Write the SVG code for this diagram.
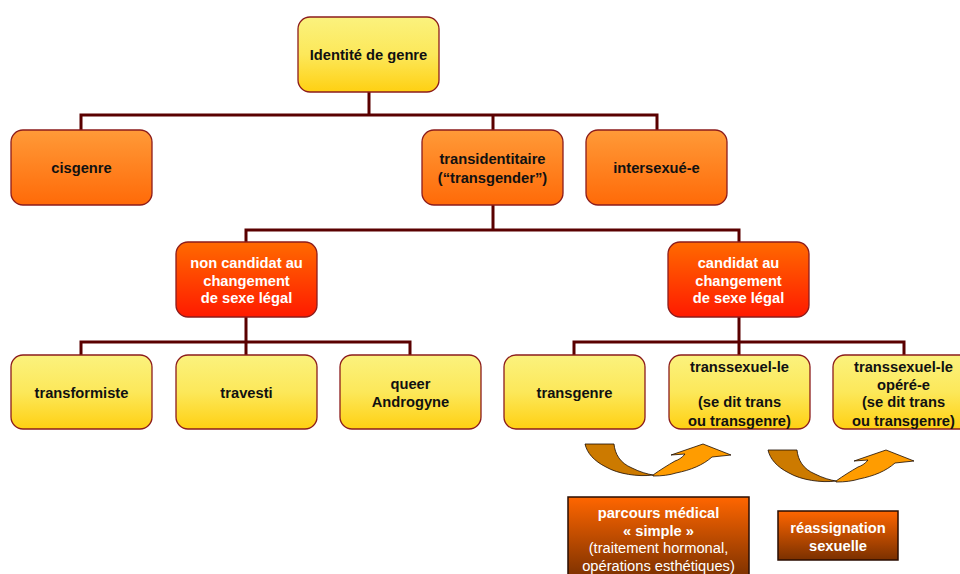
<svg xmlns="http://www.w3.org/2000/svg" width="960" height="574" viewBox="0 0 960 574">
<defs>
<linearGradient id="gy" x1="0" y1="0" x2="0" y2="1"><stop offset="0" stop-color="#fbf27e"/><stop offset="0.5" stop-color="#fce85a"/><stop offset="1" stop-color="#ffd012"/></linearGradient>
<linearGradient id="go" x1="0" y1="0" x2="0" y2="1"><stop offset="0" stop-color="#ff9a38"/><stop offset="1" stop-color="#ff6a08"/></linearGradient>
<linearGradient id="gr" x1="0" y1="0" x2="0" y2="1"><stop offset="0" stop-color="#ff6a00"/><stop offset="1" stop-color="#ff1a00"/></linearGradient>
<linearGradient id="gb" x1="0" y1="0" x2="0" y2="1"><stop offset="0" stop-color="#ff6600"/><stop offset="1" stop-color="#7a3000"/></linearGradient>
<g id="curved">
<path class="ad" d="M585,444 L614,444 C615,454 620,463 632,468 C640,472 647,474 653,475 C638,477 618,474 606,467 C594,461 587,453 585,444 Z"/>
<path class="al" d="M653,476 C662,476 670,475 676,473 C691,470 703,465 712,457 L731,455 L703,444 L671,455 L685,454 C682,458 678,460 675,461 C668,465 660,470 653,475 Z"/>
</g>
</defs>
<style>
.n{stroke:#8c1c1c;stroke-width:1.3}
.y{fill:url(#gy)}
.o{fill:url(#go)}
.r{fill:url(#gr)}
.b{fill:url(#gb);stroke:#2a0c00;stroke-width:1.5}
text{font-family:"Liberation Sans",Arial,sans-serif;font-size:14.7px;font-weight:bold;text-anchor:middle;fill:#111}
.w{fill:#fff}
.reg{font-weight:normal}
.c{fill:none;stroke:#5a0000;stroke-width:3}
.ad{fill:#cc7a00;stroke:#1a0a00;stroke-width:0.8}
.al{fill:#ff9c00;stroke:#1a0a00;stroke-width:0.8}
</style>
<rect width="960" height="574" fill="#fff"/>
<g id="connectors">
<path class="c" d="M369,92 V115 M81,130 V115 H657 V130 M493,115 V130"/>
<path class="c" d="M493,205 V230 M246,242 V230 H739 V242"/>
<path class="c" d="M246,317 V342 M81,355 V342 H410 V355 M246,342 V355"/>
<path class="c" d="M739,317 V342 M574,355 V342 H904 V355 M739,342 V355"/>
</g>
<g id="n-identite"><rect class="n y" x="298" y="17" width="141" height="75" rx="12"/><text x="368.5" y="60">Identité de genre</text></g>
<g id="n-cisgenre"><rect class="n o" x="11" y="130" width="141" height="75" rx="12"/><text x="81.5" y="173">cisgenre</text></g>
<g id="n-transidentitaire"><rect class="n o" x="422" y="130" width="141" height="75" rx="12"/><text x="492.5" y="164">transidentitaire</text><text x="492.5" y="183">(“transgender”)</text></g>
<g id="n-intersexue"><rect class="n o" x="586" y="130" width="141" height="75" rx="12"/><text x="656.5" y="173">intersexué-e</text></g>
<g id="n-noncandidat"><rect class="n r" x="176" y="242" width="141" height="75" rx="12"/><text class="w" x="246.5" y="268">non candidat au</text><text class="w" x="246.5" y="286">changement</text><text class="w" x="246.5" y="303">de sexe légal</text></g>
<g id="n-candidat"><rect class="n r" x="668" y="242" width="141" height="75" rx="12"/><text class="w" x="738.5" y="268">candidat au</text><text class="w" x="738.5" y="286">changement</text><text class="w" x="738.5" y="303">de sexe légal</text></g>
<g id="n-transformiste"><rect class="n y" x="11" y="355" width="141" height="74" rx="12"/><text x="81.5" y="398">transformiste</text></g>
<g id="n-travesti"><rect class="n y" x="176" y="355" width="141" height="74" rx="12"/><text x="246.5" y="398">travesti</text></g>
<g id="n-queer"><rect class="n y" x="340" y="355" width="141" height="74" rx="12"/><text x="410.5" y="389">queer</text><text x="410.5" y="407">Androgyne</text></g>
<g id="n-transgenre"><rect class="n y" x="504" y="355" width="141" height="74" rx="12"/><text x="574.5" y="398">transgenre</text></g>
<g id="n-transsexuel"><rect class="n y" x="669" y="355" width="141" height="74" rx="12"/><text x="739.5" y="372">transsexuel-le</text><text x="739.5" y="407">(se dit trans</text><text x="739.5" y="426">ou transgenre)</text></g>
<g id="n-opere"><rect class="n y" x="833" y="355" width="141" height="74" rx="12"/><text x="903.5" y="372">transsexuel-le</text><text x="903.5" y="390">opéré-e</text><text x="903.5" y="407">(se dit trans</text><text x="903.5" y="426">ou transgenre)</text></g>
<g id="arrow1"><use href="#curved"/></g>
<g id="arrow2"><use href="#curved" transform="translate(183,6)"/></g>
<g id="n-parcours"><rect class="b" x="568" y="497" width="181" height="82"/><text class="w" x="658.5" y="518">parcours médical</text><text class="w" x="658.5" y="536">« simple »</text><text class="w reg" x="658.5" y="553">(traitement hormonal,</text><text class="w reg" x="658.5" y="571">opérations esthétiques)</text></g>
<g id="n-reassignation"><rect class="b" x="778" y="511" width="120" height="49"/><text class="w" x="838" y="533">réassignation</text><text class="w" x="838" y="551">sexuelle</text></g>
</svg>
